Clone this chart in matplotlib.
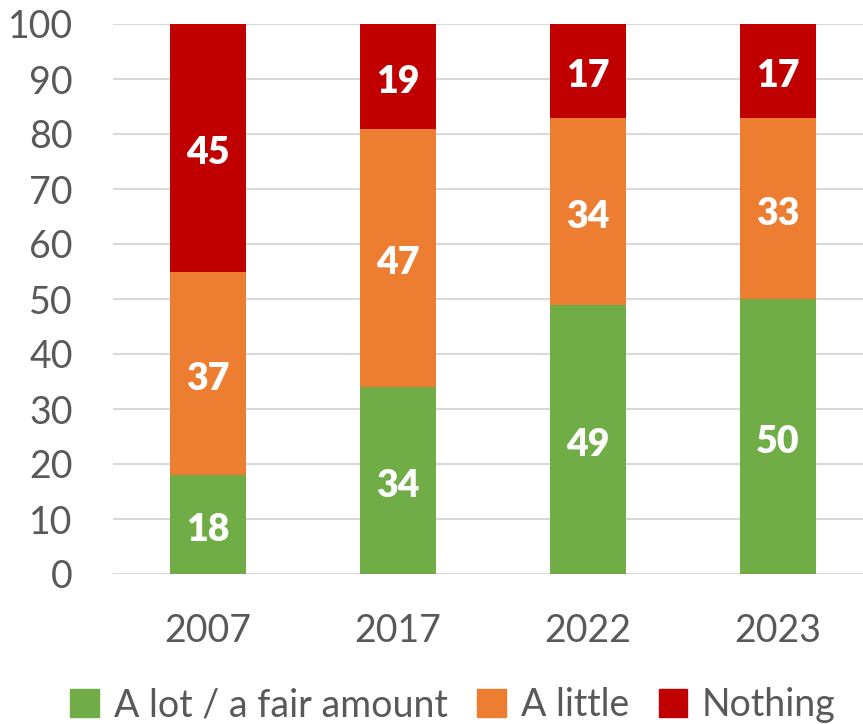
import numpy as np
import matplotlib.pyplot as plt
from matplotlib.patches import Patch

# Data
years = ["2007", "2017", "2022", "2023"]
lot = [18, 34, 49, 50]
little = [37, 47, 34, 33]
nothing = [45, 19, 17, 17]
series_names = ["A lot / a fair amount", "A little", "Nothing"]
colors = ["#70ad47", "#ed7d31", "#c00000"]

plt.rcParams['font.family'] = ['Lato', 'DejaVu Sans']

fig = plt.figure(figsize=(8.63, 7.24), dpi=100)
ax = fig.add_axes([113 / 863, 150 / 724, 760 / 863, 550 / 724])

x = np.arange(len(years))
bottom = np.zeros(len(years))
for vals, col in zip([lot, little, nothing], colors):
    vals = np.array(vals, dtype=float)
    bars = ax.bar(x, vals, width=0.4, bottom=bottom, color=col, zorder=3)
    ax.bar_label(bars, labels=[str(int(v)) for v in vals], label_type='center',
                 color='white', fontsize=27, fontweight='heavy', padding=-4)
    bottom += vals

ax.set_xlim(-0.5, 3.5)
ax.set_ylim(0, 100)
ax.set_yticks(range(0, 101, 10))
ax.set_xticks(x)
ax.set_xticklabels(years)
ax.yaxis.grid(True, color='#d9d9d9', linewidth=1.5, zorder=0)
ax.set_axisbelow(True)
for s in ax.spines.values():
    s.set_visible(False)
ax.tick_params(axis='both', length=0, labelsize=27, colors='#595959')
ax.tick_params(axis='y', pad=29)
ax.tick_params(axis='x', pad=28)

handles = [Patch(color=c) for c in colors]
fig.legend(handles, series_names, loc='center', bbox_to_anchor=(453 / 863, 1 - 705 / 724),
           ncol=3, frameon=False, fontsize=27, labelcolor='#595959',
           handlelength=0.75, handleheight=0.75, handletextpad=0.4, columnspacing=0.8)

fig.savefig("out.png", dpi=100)
